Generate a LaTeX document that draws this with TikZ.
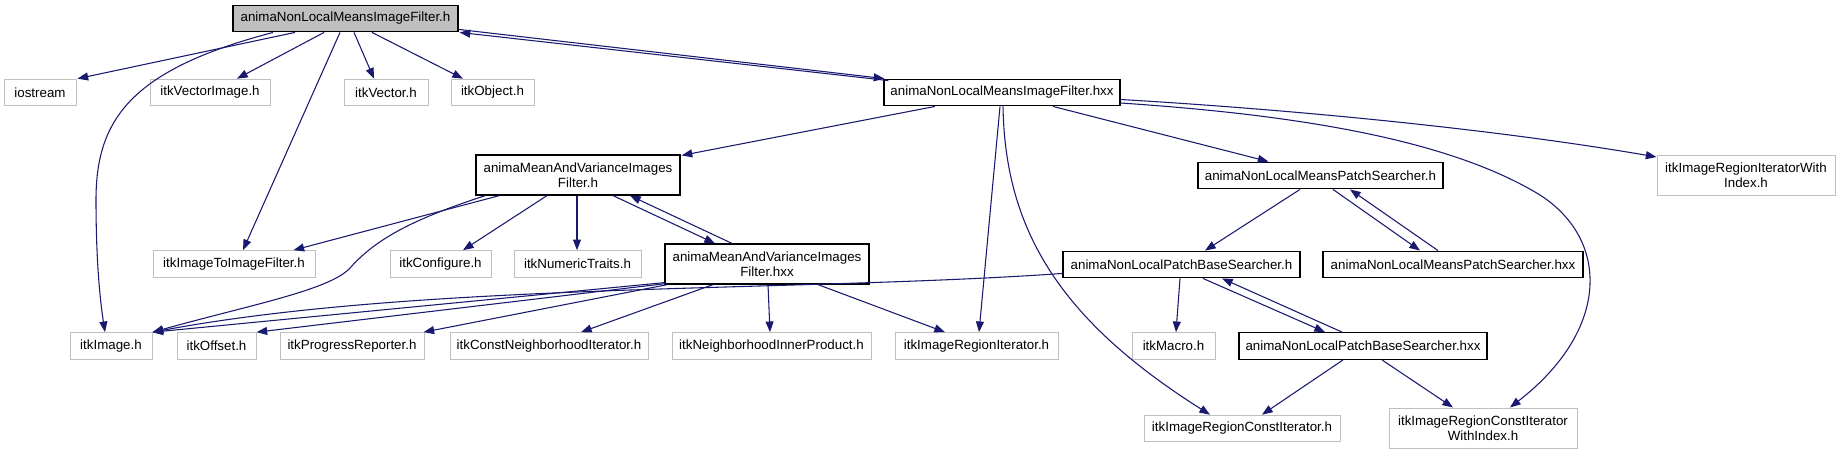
\documentclass[tikz,border=0pt]{standalone}
\usepackage{fontspec}
\setmainfont{Liberation Sans}
\usetikzlibrary{arrows.meta,calc}
\definecolor{edgeblue}{HTML}{191970}
\definecolor{greyline}{HTML}{BFBFBF}
\tikzset{
  basebox/.style={draw, rectangle, inner sep=0pt, align=center, font=\fontsize{10}{11}\selectfont, line width=0.75pt, minimum height=20pt},
  gbox/.style={basebox, draw=greyline},
  bbox/.style={basebox, draw=black, line width=0.9pt},
  cbox/.style={basebox, draw=black, fill=greyline, line width=0.9pt},
  dep/.style={draw=edgeblue, line width=0.8pt, -{Triangle[length=8pt,width=6pt]}},
}
\begin{document}
\begin{tikzpicture}[x=0.75pt,y=-0.75pt]
\useasboundingbox[fill=white] (0,0) rectangle (1841,455);
% nodes
\node[cbox, minimum width=168.75pt] (top) at (345.5,18.5) {animaNonLocalMeansImageFilter.h};
\node[gbox, minimum width=54pt] (iostream) at (40,92.5) {iostream};
\node[gbox, minimum width=90pt] (vecimg) at (210,92.5) {itkVectorImage.h};
\node[gbox, minimum width=63pt] (vec) at (386,92.5) {itkVector.h};
\node[gbox, minimum width=62.25pt] (obj) at (492.5,92.5) {itkObject.h};
\node[bbox, minimum width=177pt] (hxx) at (1002,92.5) {animaNonLocalMeansImageFilter.hxx};
\node[bbox, minimum width=153pt, minimum height=30pt] (mvh) at (578,175) {animaMeanAndVarianceImages\\Filter.h};
\node[bbox, minimum width=183.75pt] (psh) at (1320.5,175.5) {animaNonLocalMeansPatchSearcher.h};
\node[gbox, minimum width=133.5pt, minimum height=30pt] (iwi) at (1746,175) {itkImageRegionIteratorWith\\Index.h};
\node[gbox, minimum width=121.5pt] (i2i) at (234,264) {itkImageToImageFilter.h};
\node[gbox, minimum width=75.75pt] (conf) at (440.5,264) {itkConfigure.h};
\node[gbox, minimum width=95.25pt] (numt) at (577.5,264) {itkNumericTraits.h};
\node[bbox, minimum width=153pt, minimum height=30pt] (mvx) at (767,264) {animaMeanAndVarianceImages\\Filter.hxx};
\node[bbox, minimum width=177.75pt] (pbh) at (1181.5,264.5) {animaNonLocalPatchBaseSearcher.h};
\node[bbox, minimum width=195pt] (psx) at (1453,264.5) {animaNonLocalMeansPatchSearcher.hxx};
\node[gbox, minimum width=61.5pt] (img) at (111,346) {itkImage.h};
\node[gbox, minimum width=59.25pt] (off) at (216.5,346) {itkOffset.h};
\node[gbox, minimum width=108pt] (prog) at (352,346) {itkProgressReporter.h};
\node[gbox, minimum width=148.5pt] (cni) at (549,346) {itkConstNeighborhoodIterator.h};
\node[gbox, minimum width=149.25pt] (nip) at (771.5,346) {itkNeighborhoodInnerProduct.h};
\node[gbox, minimum width=122.25pt] (rit) at (976.5,346) {itkImageRegionIterator.h};
\node[gbox, minimum width=62.25pt] (mac) at (1173.5,346) {itkMacro.h};
\node[bbox, minimum width=186pt] (pbx) at (1363,346) {animaNonLocalPatchBaseSearcher.hxx};
\node[gbox, minimum width=147pt] (rci) at (1242,428.5) {itkImageRegionConstIterator.h};
\node[gbox, minimum width=141pt, minimum height=30pt] (ciwi) at (1483,428) {itkImageRegionConstIterator\\WithIndex.h};
% edges from top
\draw[dep] ($(top.south)+(-50.5,0)$) -- ($(iostream.north east)+(1,0)$);
\draw[dep] ($(top.south)+(-21.5,0)$) -- ($(vecimg.north)+(27,0)$);
\draw[dep] ($(top.south)+(8.5,0)$) -- ($(vec.north)+(-12,0)$);
\draw[dep] ($(top.south)+(26.5,0)$) -- ($(obj.north)+(-29.5,0)$);
\draw[dep] ($(top.south)+(-5.5,0)$) -- ($(i2i.north)+(9,0)$);
\draw[dep] ($(top.south)+(-72.5,0)$) .. controls (130,70) and (96,120) .. (96,200) .. controls (96,260) and (100,300) .. ($(img.north)+(-6,0)$);
\draw[dep] ($(top.south east)+(0,-3)$) -- ($(hxx.north west)+(1,0)$);
\draw[dep] ($(hxx.north west)+(5,2)$) -- ($(top.south east)+(1,0)$);
% edges from hxx
\draw[dep] ($(hxx.south)+(-67,0)$) -- ($(mvh.north east)+(1,1)$);
\draw[dep] ($(hxx.south)+(-2,0)$) -- ($(rit.north)+(2.5,0)$);
\draw[dep] ($(hxx.south)+(1,0)$) .. controls (1005,230) and (1060,320) .. ($(rci.north)+(-32,0)$);
\draw[dep] ($(hxx.south)+(51,0)$) -- ($(psh.north)+(-52,0)$);
\draw[dep] ($(hxx.east)+(0,7)$) .. controls (1300,110) and (1500,130) .. ($(iwi.west)+(0,-18)$);
\draw[dep] ($(hxx.east)+(0,10.5)$) .. controls (1300,115) and (1450,140) .. (1540,195) .. controls (1610,240) and (1610,330) .. ($(ciwi.north)+(27,0)$);
% edges from MeanVar.h
\draw[dep] ($(mvh.south west)+(24,0)$) -- ($(i2i.north east)+(-22,0)$);
\draw[dep] ($(mvh.south west)+(10,0)$) .. controls (410,220) and (375,240) .. (350,268) .. controls (330,290) and (250,305) .. (img.north east);
\draw[dep] ($(mvh.south)+(-31,0)$) -- ($(conf.north)+(22.5,0)$);
\draw[dep] ($(mvh.south)+(-1,0)$) -- ($(numt.north)+(-0.5,0)$);
\draw[dep] ($(mvh.south)+(35,0)$) -- ($(mvx.north)+(-52,0)$);
\draw[dep] ($(mvx.north)+(-35,0)$) -- ($(mvh.south)+(52,0)$);
% edges from MeanVar.hxx
\draw[dep] ($(mvx.south west)+(0,-2)$) -- (img.north east);
\draw[dep] ($(mvx.south west)+(1,-1)$) -- (off.north east);
\draw[dep] ($(mvx.south west)+(3,0)$) -- ($(prog.north east)+(-1,0)$);
\draw[dep] ($(mvx.south)+(-54,0)$) -- ($(cni.north)+(32,0)$);
\draw[dep] ($(mvx.south)+(1,0)$) -- ($(nip.north)+(-1.5,0)$);
\draw[dep] ($(mvx.south)+(51,0)$) -- ($(rit.north)+(-31.5,0)$);
% patch searcher
\draw[dep] ($(psh.south)+(-20.5,0)$) -- ($(pbh.north)+(23.5,0)$);
\draw[dep] ($(psh.south)+(12.5,0)$) -- ($(psx.north)+(-33,0)$);
\draw[dep] ($(psx.north)+(-15,0)$) -- ($(psh.south)+(29.5,0)$);
% patch base searcher
\draw[dep] ($(pbh.south west)+(0,-5)$) .. controls (800,292) and (420,282) .. (img.north east);
\draw[dep] ($(pbh.south)+(-1.5,0)$) -- ($(mac.north)+(2.5,0)$);
\draw[dep] ($(pbh.south)+(21.5,0)$) -- ($(pbx.north)+(-38,0)$);
\draw[dep] ($(pbx.north)+(-21,0)$) -- ($(pbh.south)+(40.5,0)$);
\draw[dep] ($(pbx.south)+(-20,0)$) -- ($(rci.north)+(20,0)$);
\draw[dep] ($(pbx.south)+(19,0)$) -- ($(ciwi.north)+(-30,0)$);
\end{tikzpicture}
\end{document}
